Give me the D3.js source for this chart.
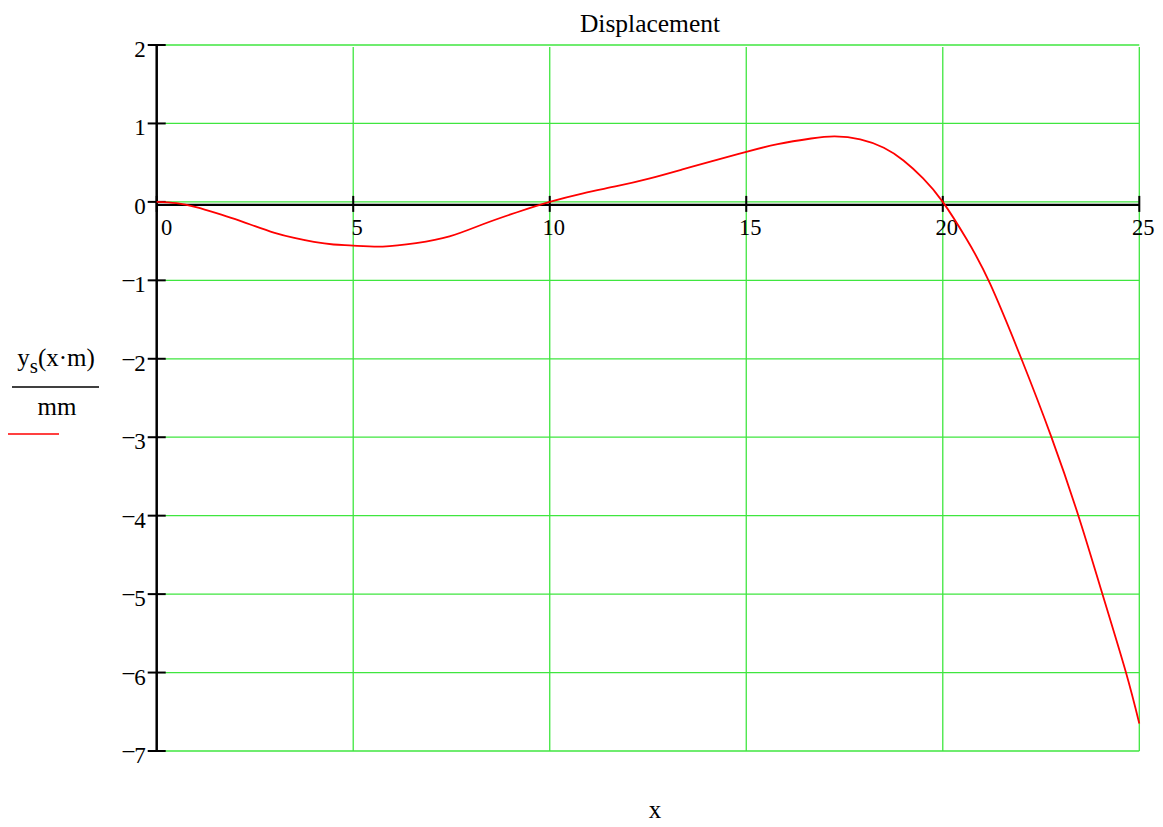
<!DOCTYPE html>
<html>
<head>
<meta charset="utf-8">
<script src="https://cdn.jsdelivr.net/npm/d3@7"></script>
<style>
body { margin: 0; background: #fff; }
text { font-family: "Liberation Serif", "Times New Roman", serif; fill: #000; }
</style>
</head>
<body>
<script>
// data
var xs = [0, 0.5, 1, 1.5, 2, 2.5, 3, 3.5, 4, 4.5, 5, 5.75, 6.6, 7.45, 8.3, 9.15, 10,
          10.85, 11.7, 12.55, 13.4, 14.25, 15, 15.8, 16.65, 17.25, 17.9, 18.5, 19, 19.5, 20,
          20.6, 21.2, 22, 22.75, 23.45, 24.05, 24.65, 25];
var ys = [0, -0.017, -0.068, -0.14, -0.22, -0.31, -0.395, -0.46, -0.51, -0.543, -0.557, -0.57, -0.527, -0.44, -0.285, -0.135, 0,
          0.11, 0.2, 0.3, 0.417, 0.536, 0.638, 0.736, 0.808, 0.834, 0.798, 0.69, 0.528, 0.3, 0,
          -0.47, -1.04, -2.0, -2.98, -4.0, -4.98, -5.98, -6.65];
var xTicks = [0, 5, 10, 15, 20, 25];
var yTicks = [2, 1, 0, -1, -2, -3, -4, -5, -6, -7];
var title = "Displacement";
var xLabel = "x";

var width = 1163;
var height = 827;
var svg = d3.select("body").append("svg")
    .attr("width", width)
    .attr("height", height);

var x = d3.scaleLinear().domain([0, 25]).range([156.7, 1139.3]);
var y = d3.scaleLinear().domain([-7, 2]).range([751, 45]);
var green = "#3fe63f";

// grid
svg.append("g").selectAll("line.h")
    .data(yTicks)
    .enter().append("line")
    .attr("x1", x(0) + 8).attr("x2", x(25))
    .attr("y1", function(d) { return y(d); })
    .attr("y2", function(d) { return y(d); })
    .attr("stroke", green).attr("stroke-width", 1.3);

svg.append("g").selectAll("line.v")
    .data(xTicks.filter(function(d) { return d > 0; }))
    .enter().append("line")
    .attr("x1", function(d) { return x(d); })
    .attr("x2", function(d) { return x(d); })
    .attr("y1", y(2) + 2).attr("y2", y(-7))
    .attr("stroke", green).attr("stroke-width", 1.3);

// axes
svg.append("line")
    .attr("x1", x(0)).attr("x2", x(0))
    .attr("y1", y(2)).attr("y2", y(-7))
    .attr("stroke", "#000").attr("stroke-width", 2.5);

svg.append("line")
    .attr("x1", x(0)).attr("x2", x(25))
    .attr("y1", y(0) + 3).attr("y2", y(0) + 3)
    .attr("stroke", "#000").attr("stroke-width", 2.4);

svg.append("g").selectAll("line")
    .data(yTicks)
    .enter().append("line")
    .attr("x1", x(0) - 9).attr("x2", x(0) + 9)
    .attr("y1", function(d) { return y(d); })
    .attr("y2", function(d) { return y(d); })
    .attr("stroke", "#000").attr("stroke-width", 2);

svg.append("g").selectAll("line")
    .data(xTicks)
    .enter().append("line")
    .attr("x1", function(d) { return x(d); })
    .attr("x2", function(d) { return x(d); })
    .attr("y1", y(0) - 6).attr("y2", y(0) + 10)
    .attr("stroke", "#000").attr("stroke-width", 2);

// tick labels
var yl = svg.append("g").selectAll("text")
    .data(yTicks)
    .enter().append("text")
    .attr("x", x(0) - 11)
    .attr("y", function(d) { return y(d) + 12; })
    .attr("text-anchor", "end")
    .style("font-size", "23px");
yl.filter(function(d) { return d < 0; }).append("tspan")
    .attr("dy", -6)
    .text("\u2013");
yl.append("tspan")
    .attr("dy", function(d) { return d < 0 ? 6 : 0; })
    .text(function(d) { return Math.abs(d); });

svg.append("g").selectAll("text")
    .data(xTicks)
    .enter().append("text")
    .attr("x", function(d) { return x(d) + (d === 0 ? 10 : 4); })
    .attr("y", y(0) + 33)
    .attr("text-anchor", "middle")
    .style("font-size", "22.5px")
    .text(function(d) { return d; });

// curve
var pts = xs.map(function(d, i) { return [d, ys[i]]; });
var line = d3.line()
    .x(function(d) { return x(d[0]); })
    .y(function(d) { return y(d[1]); })
    .curve(d3.curveNatural);

svg.append("path")
    .datum(pts)
    .attr("d", line)
    .attr("fill", "none")
    .attr("stroke", "#ff0000")
    .attr("stroke-width", 1.8);

// title and axis labels
svg.append("text")
    .text(title)
    .attr("x", 650).attr("y", 32)
    .attr("text-anchor", "middle")
    .style("font-size", "25.5px");

svg.append("text")
    .text(xLabel)
    .attr("x", 655).attr("y", 818)
    .attr("text-anchor", "middle")
    .style("font-size", "25px");

var lab = svg.append("text")
    .attr("x", 56).attr("y", 366)
    .attr("text-anchor", "middle")
    .style("font-size", "25px");
lab.append("tspan").text("y");
lab.append("tspan").attr("dy", 7).style("font-size", "21px").text("s");
lab.append("tspan").attr("dy", -7).text("(x\u00b7m)");

svg.append("line")
    .attr("x1", 12).attr("x2", 99)
    .attr("y1", 387).attr("y2", 387)
    .attr("stroke", "#000").attr("stroke-width", 1.6);

svg.append("text")
    .text("mm")
    .attr("x", 57).attr("y", 415)
    .attr("text-anchor", "middle")
    .style("font-size", "25px");

svg.append("line")
    .attr("x1", 8).attr("x2", 59)
    .attr("y1", 434).attr("y2", 434)
    .attr("stroke", "#ff0000").attr("stroke-width", 1.6);
</script>
</body>
</html>
